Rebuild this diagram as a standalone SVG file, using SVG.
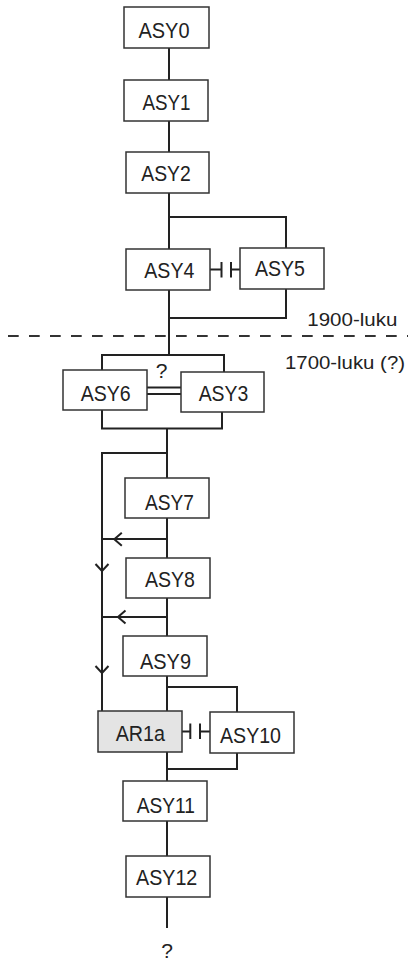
<svg xmlns="http://www.w3.org/2000/svg" xmlns:xlink="http://www.w3.org/1999/xlink" width="408" height="963" viewBox="0 0 408 963">
<style>
.box{fill:#fff;stroke:#333;stroke-width:1.5}
.gray{fill:#e4e4e4}
.lbl{font-family:"Liberation Sans",Arial,sans-serif;font-size:22px;fill:#222}
.era{font-family:"Liberation Sans",Arial,sans-serif;font-size:19px;fill:#222}
.c{fill:none;stroke:#222;stroke-width:2}
.dash{fill:none;stroke:#333;stroke-width:2;stroke-dasharray:10.7 10.3}
</style>
<defs>
<path id="chevL" d="M7.5,-6.5 L0,0 L7.5,6.5" class="c"/>
<path id="chevD" d="M-6.5,-7 L0,0 L6.5,-7" class="c"/>
</defs>
<g id="connectors">
<path class="c" d="M169,48V80M169,121V152M169,193V249"/>
<path class="c" d="M169,217H286V248"/>
<path class="c" d="M210,269.5H221.5M221.5,262V277.5M231,262V277.5M231,269.5H240"/>
<path class="c" d="M169,290V355"/>
<path class="c" d="M169,318H286V289"/>
<path class="c" d="M102,370V355H224V372"/>
<path class="c" d="M147,387.5H181M147,394H181" style="stroke-width:1.8"/>
<path class="c" d="M102,410V428.5H222V412"/>
<path class="c" d="M167,428.5V478"/>
<path class="c" d="M167,453H102V711"/>
<path class="c" d="M167,518V558"/>
<path class="c" d="M167,539H102"/>
<use xlink:href="#chevL" x="114.3" y="539.3"/>
<use xlink:href="#chevD" x="102" y="571"/>
<path class="c" d="M167,598V636"/>
<path class="c" d="M167,617H102"/>
<use xlink:href="#chevL" x="118" y="617"/>
<use xlink:href="#chevD" x="102" y="673"/>
<path class="c" d="M167,676V711"/>
<path class="c" d="M167,687H237V712"/>
<path class="c" d="M182,731.5H190.3M190.3,723.5V739M200,723.5V739M200,731.5H210"/>
<path class="c" d="M167,752V781"/>
<path class="c" d="M167,769H237V753"/>
<path class="c" d="M167,821V856M167,897V928"/>
<path class="dash" d="M8,336H408"/>
</g>
<g id="ASY0"><rect class="box" x="124" y="7" width="85" height="41"/><text class="lbl" x="138.5" y="38.3" textLength="51" lengthAdjust="spacingAndGlyphs">ASY0</text></g>
<g id="ASY1"><rect class="box" x="124" y="80" width="84" height="41"/><text class="lbl" x="142.5" y="110" textLength="48" lengthAdjust="spacingAndGlyphs">ASY1</text></g>
<g id="ASY2"><rect class="box" x="126" y="152" width="83" height="41"/><text class="lbl" x="141.3" y="181" textLength="49.5" lengthAdjust="spacingAndGlyphs">ASY2</text></g>
<g id="ASY4"><rect class="box" x="126" y="249" width="84" height="41"/><text class="lbl" x="144.3" y="277.7" textLength="50" lengthAdjust="spacingAndGlyphs">ASY4</text></g>
<g id="ASY5"><rect class="box" x="240" y="248" width="84" height="41"/><text class="lbl" x="255" y="276" textLength="50" lengthAdjust="spacingAndGlyphs">ASY5</text></g>
<g id="label-1900"><text class="era" x="307.3" y="326" textLength="90" lengthAdjust="spacingAndGlyphs">1900-luku</text></g>
<g id="label-1700"><text class="era" x="285" y="369" textLength="120" lengthAdjust="spacingAndGlyphs">1700-luku (?)</text></g>
<g id="ASY6"><rect class="box" x="63" y="370" width="84" height="40"/><text class="lbl" x="80.7" y="401" textLength="50" lengthAdjust="spacingAndGlyphs">ASY6</text></g>
<g id="ASY3"><rect class="box" x="181" y="372" width="83" height="40"/><text class="lbl" x="198.7" y="401.3" textLength="49.6" lengthAdjust="spacingAndGlyphs">ASY3</text></g>
<g id="q-top"><text class="lbl" x="161.7" y="378.3" text-anchor="middle" style="font-size:21px">?</text></g>
<g id="ASY7"><rect class="box" x="125" y="478" width="84" height="40"/><text class="lbl" x="145" y="510" textLength="49" lengthAdjust="spacingAndGlyphs">ASY7</text></g>
<g id="ASY8"><rect class="box" x="126" y="558" width="84" height="40"/><text class="lbl" x="145" y="587.3" textLength="50" lengthAdjust="spacingAndGlyphs">ASY8</text></g>
<g id="ASY9"><rect class="box" x="123" y="636" width="84" height="40"/><text class="lbl" x="140" y="669.3" textLength="51" lengthAdjust="spacingAndGlyphs">ASY9</text></g>
<g id="AR1a"><rect class="box gray" x="98" y="711" width="84" height="41"/><text class="lbl" x="115.7" y="741" textLength="49.3" lengthAdjust="spacingAndGlyphs">AR1a</text></g>
<g id="ASY10"><rect class="box" x="210" y="712" width="84" height="41"/><text class="lbl" x="220" y="742.7" textLength="61" lengthAdjust="spacingAndGlyphs">ASY10</text></g>
<g id="ASY11"><rect class="box" x="123" y="781" width="84" height="40"/><text class="lbl" x="136.7" y="812.7" textLength="58.3" lengthAdjust="spacingAndGlyphs">ASY11</text></g>
<g id="ASY12"><rect class="box" x="126" y="856" width="84" height="41"/><text class="lbl" x="136" y="885" textLength="61.3" lengthAdjust="spacingAndGlyphs">ASY12</text></g>
<g id="q-bottom"><text class="lbl" x="167.2" y="958" text-anchor="middle" style="font-size:21px">?</text></g>
</svg>
